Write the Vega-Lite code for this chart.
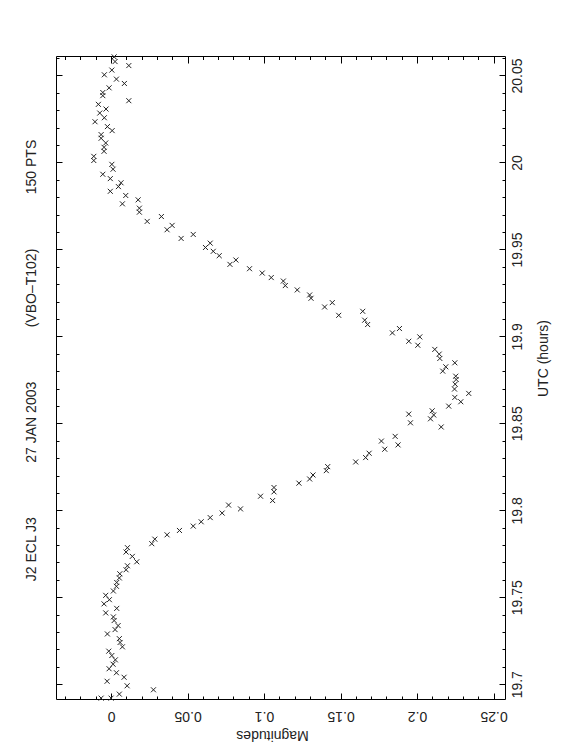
{
  "$schema": "https://vega.github.io/schema/vega-lite/v6.json",
  "width": 449,
  "height": 643,
  "autosize": {"type": "none"},
  "padding": {"left": 56, "top": 56, "right": 57, "bottom": 57},
  "background": "white",
  "config": {
    "view": {"stroke": null},
    "font": "Liberation Sans",
    "axis": {
      "grid": false,
      "domainColor": "#000",
      "domainWidth": 1,
      "tickColor": "#000",
      "tickWidth": 1,
      "labelFont": "Liberation Sans",
      "labelFontSize": 14,
      "labelColor": "#222",
      "labelOverlap": false,
      "labelFlush": false,
      "titleFont": "Liberation Sans",
      "titleFontSize": 14,
      "titleFontWeight": "normal",
      "titleColor": "#222"
    }
  },
  "title": {
    "text": "J2 ECL J3\u00a0\u00a0\u00a0\u00a0\u00a0\u00a0\u00a0\u00a0\u00a0\u00a0\u00a0\u00a0\u00a0\u00a027 JAN 2003\u00a0\u00a0\u00a0\u00a0\u00a0\u00a0\u00a0\u00a0\u00a0\u00a0\u00a0\u00a0\u00a0\u00a0(VBO\u2013T102)\u00a0\u00a0\u00a0\u00a0\u00a0\u00a0\u00a0\u00a0\u00a0\u00a0\u00a0\u00a0\u00a0\u00a0150 PTS",
    "orient": "left",
    "anchor": "middle",
    "angle": -90,
    "baseline": "middle",
    "offset": 10,
    "dx": 17,
    "font": "Liberation Sans",
    "fontSize": 14,
    "fontWeight": "normal",
    "color": "#222",
    "frame": "group"
  },
  "data": {
    "values": [
      {"utc": 20.0607, "mag": 0.0020},
      {"utc": 20.0580, "mag": 0.0026},
      {"utc": 20.0557, "mag": 0.0116},
      {"utc": 20.0531, "mag": 0.0005},
      {"utc": 20.0504, "mag": -0.0044},
      {"utc": 20.0479, "mag": 0.0035},
      {"utc": 20.0454, "mag": 0.0087},
      {"utc": 20.0429, "mag": -0.0013},
      {"utc": 20.0402, "mag": -0.0054},
      {"utc": 20.0384, "mag": -0.0054},
      {"utc": 20.0355, "mag": 0.0116},
      {"utc": 20.0334, "mag": -0.0083},
      {"utc": 20.0307, "mag": -0.0033},
      {"utc": 20.0284, "mag": -0.0074},
      {"utc": 20.0257, "mag": -0.0044},
      {"utc": 20.0234, "mag": -0.0105},
      {"utc": 20.0206, "mag": -0.0024},
      {"utc": 20.0183, "mag": 0.0007},
      {"utc": 20.0160, "mag": -0.0065},
      {"utc": 20.0139, "mag": -0.0065},
      {"utc": 20.0112, "mag": -0.0035},
      {"utc": 20.0087, "mag": -0.0046},
      {"utc": 20.0064, "mag": -0.0046},
      {"utc": 20.0035, "mag": -0.0113},
      {"utc": 20.0011, "mag": -0.0113},
      {"utc": 19.9989, "mag": 0.0005},
      {"utc": 19.9961, "mag": 0.0013},
      {"utc": 19.9932, "mag": -0.0054},
      {"utc": 19.9907, "mag": -0.0005},
      {"utc": 19.9883, "mag": 0.0065},
      {"utc": 19.9861, "mag": 0.0048},
      {"utc": 19.9834, "mag": -0.0005},
      {"utc": 19.9810, "mag": 0.0096},
      {"utc": 19.9785, "mag": 0.0177},
      {"utc": 19.9762, "mag": 0.0074},
      {"utc": 19.9737, "mag": 0.0185},
      {"utc": 19.9714, "mag": 0.0185},
      {"utc": 19.9689, "mag": 0.0329},
      {"utc": 19.9661, "mag": 0.0236},
      {"utc": 19.9638, "mag": 0.0399},
      {"utc": 19.9613, "mag": 0.0366},
      {"utc": 19.9586, "mag": 0.0537},
      {"utc": 19.9563, "mag": 0.0458},
      {"utc": 19.9536, "mag": 0.0648},
      {"utc": 19.9511, "mag": 0.0617},
      {"utc": 19.9489, "mag": 0.0668},
      {"utc": 19.9464, "mag": 0.0707},
      {"utc": 19.9439, "mag": 0.0816},
      {"utc": 19.9414, "mag": 0.0777},
      {"utc": 19.9389, "mag": 0.0905},
      {"utc": 19.9364, "mag": 0.0988},
      {"utc": 19.9338, "mag": 0.1047},
      {"utc": 19.9318, "mag": 0.1126},
      {"utc": 19.9292, "mag": 0.1139},
      {"utc": 19.9267, "mag": 0.1217},
      {"utc": 19.9238, "mag": 0.1298},
      {"utc": 19.9219, "mag": 0.1307},
      {"utc": 19.9194, "mag": 0.1446},
      {"utc": 19.9169, "mag": 0.1396},
      {"utc": 19.9144, "mag": 0.1645},
      {"utc": 19.9121, "mag": 0.1488},
      {"utc": 19.9093, "mag": 0.1658},
      {"utc": 19.9068, "mag": 0.1677},
      {"utc": 19.9045, "mag": 0.1885},
      {"utc": 19.9020, "mag": 0.1839},
      {"utc": 19.8997, "mag": 0.2018},
      {"utc": 19.8972, "mag": 0.1946},
      {"utc": 19.8949, "mag": 0.2005},
      {"utc": 19.8925, "mag": 0.2116},
      {"utc": 19.8898, "mag": 0.2145},
      {"utc": 19.8873, "mag": 0.2149},
      {"utc": 19.8848, "mag": 0.2247},
      {"utc": 19.8825, "mag": 0.2188},
      {"utc": 19.8800, "mag": 0.2168},
      {"utc": 19.8771, "mag": 0.2253},
      {"utc": 19.8752, "mag": 0.2256},
      {"utc": 19.8725, "mag": 0.2249},
      {"utc": 19.8697, "mag": 0.2245},
      {"utc": 19.8672, "mag": 0.2338},
      {"utc": 19.8649, "mag": 0.2247},
      {"utc": 19.8624, "mag": 0.2286},
      {"utc": 19.8599, "mag": 0.2207},
      {"utc": 19.8572, "mag": 0.2099},
      {"utc": 19.8553, "mag": 0.1946},
      {"utc": 19.8548, "mag": 0.2109},
      {"utc": 19.8526, "mag": 0.2088},
      {"utc": 19.8503, "mag": 0.1957},
      {"utc": 19.8479, "mag": 0.2158},
      {"utc": 19.8425, "mag": 0.1857},
      {"utc": 19.8398, "mag": 0.1767},
      {"utc": 19.8376, "mag": 0.1876},
      {"utc": 19.8351, "mag": 0.1789},
      {"utc": 19.8328, "mag": 0.1687},
      {"utc": 19.8303, "mag": 0.1664},
      {"utc": 19.8278, "mag": 0.1599},
      {"utc": 19.8251, "mag": 0.1416},
      {"utc": 19.8228, "mag": 0.1407},
      {"utc": 19.8203, "mag": 0.1320},
      {"utc": 19.8180, "mag": 0.1298},
      {"utc": 19.8156, "mag": 0.1228},
      {"utc": 19.8131, "mag": 0.1065},
      {"utc": 19.8106, "mag": 0.1065},
      {"utc": 19.8081, "mag": 0.0977},
      {"utc": 19.8056, "mag": 0.1056},
      {"utc": 19.8030, "mag": 0.0768},
      {"utc": 19.8008, "mag": 0.0846},
      {"utc": 19.7984, "mag": 0.0726},
      {"utc": 19.7958, "mag": 0.0648},
      {"utc": 19.7934, "mag": 0.0589},
      {"utc": 19.7909, "mag": 0.0537},
      {"utc": 19.7884, "mag": 0.0447},
      {"utc": 19.7859, "mag": 0.0366},
      {"utc": 19.7834, "mag": 0.0286},
      {"utc": 19.7808, "mag": 0.0266},
      {"utc": 19.7785, "mag": 0.0107},
      {"utc": 19.7760, "mag": 0.0098},
      {"utc": 19.7735, "mag": 0.0139},
      {"utc": 19.7704, "mag": 0.0168},
      {"utc": 19.7681, "mag": 0.0107},
      {"utc": 19.7658, "mag": 0.0098},
      {"utc": 19.7635, "mag": 0.0057},
      {"utc": 19.7611, "mag": 0.0054},
      {"utc": 19.7585, "mag": 0.0037},
      {"utc": 19.7563, "mag": 0.0035},
      {"utc": 19.7536, "mag": 0.0015},
      {"utc": 19.7511, "mag": -0.0035},
      {"utc": 19.7486, "mag": -0.0011},
      {"utc": 19.7462, "mag": -0.0046},
      {"utc": 19.7436, "mag": 0.0037},
      {"utc": 19.7410, "mag": -0.0035},
      {"utc": 19.7387, "mag": 0.0015},
      {"utc": 19.7366, "mag": 0.0020},
      {"utc": 19.7337, "mag": 0.0046},
      {"utc": 19.7314, "mag": 0.0026},
      {"utc": 19.7289, "mag": -0.0024},
      {"utc": 19.7262, "mag": 0.0054},
      {"utc": 19.7240, "mag": 0.0059},
      {"utc": 19.7215, "mag": 0.0074},
      {"utc": 19.7190, "mag": -0.0015},
      {"utc": 19.7165, "mag": 0.0005},
      {"utc": 19.7140, "mag": 0.0028},
      {"utc": 19.7115, "mag": 0.0013},
      {"utc": 19.7089, "mag": -0.0013},
      {"utc": 19.7066, "mag": 0.0035},
      {"utc": 19.7040, "mag": 0.0085},
      {"utc": 19.7017, "mag": -0.0026},
      {"utc": 19.6991, "mag": 0.0105},
      {"utc": 19.6968, "mag": 0.0277},
      {"utc": 19.6943, "mag": 0.0054},
      {"utc": 19.6920, "mag": -0.0065},
      {"utc": 19.6920, "mag": 0.0000}
    ]
  },
  "layer": [
    {
      "mark": {"type": "point", "shape": "M-1,-1L1,1M1,-1L-1,1", "filled": false, "size": 25, "stroke": "#222", "strokeWidth": 1, "opacity": 1},
      "encoding": {
        "x": {
          "field": "mag", "type": "quantitative",
          "scale": {"domain": [-0.036, 0.2575], "nice": false, "zero": false},
          "axis": {
            "orient": "bottom",
            "values": [-0.03,-0.02,-0.01,0,0.01,0.02,0.03,0.04,0.05,0.06,0.07,0.08,0.09,0.1,0.11,0.12,0.13,0.14,0.15,0.16,0.17,0.18,0.19,0.2,0.21,0.22,0.23,0.24,0.25],
            "tickSize": {"condition": {"test": "abs(round(datum.value*100)) % 5 == 0", "value": -6}, "value": -3},
            "labelExpr": "abs(round(datum.value*100)) % 5 == 0 ? toString(round(datum.value*100)/100) : ''",
            "labelAngle": 180,
            "labelAlign": "center",
            "labelBaseline": "middle",
            "labelPadding": 22,
            "title": "Magnitudes",
            "titleAngle": 180,
            "titleX": 216,
            "titleY": 35,
            "titleAlign": "center",
            "titleBaseline": "middle"
          }
        },
        "y": {
          "field": "utc", "type": "quantitative",
          "scale": {"domain": [19.6915, 20.0612], "nice": false, "zero": false},
          "axis": {
            "orient": "right",
            "values": [19.7,19.71,19.72,19.73,19.74,19.75,19.76,19.77,19.78,19.79,19.8,19.81,19.82,19.83,19.84,19.85,19.86,19.87,19.88,19.89,19.9,19.91,19.92,19.93,19.94,19.95,19.96,19.97,19.98,19.99,20,20.01,20.02,20.03,20.04,20.05,20.06],
            "tickSize": {"condition": {"test": "round(datum.value*100) % 5 == 0", "value": -6}, "value": -3},
            "labelExpr": "round(datum.value*100) % 5 == 0 ? toString(round(datum.value*100)/100) : ''",
            "labelAngle": -90,
            "labelAlign": "center",
            "labelBaseline": "middle",
            "labelPadding": 18,
            "title": "UTC (hours)",
            "titleAngle": -90,
            "titleX": 38,
            "titleY": 302,
            "titleAlign": "center",
            "titleBaseline": "middle"
          }
        }
      }
    },
    {
      "mark": {"type": "point", "opacity": 0},
      "encoding": {
        "x": {
          "field": "mag", "type": "quantitative",
          "axis": {
            "orient": "top",
            "values": [-0.03,-0.02,-0.01,0,0.01,0.02,0.03,0.04,0.05,0.06,0.07,0.08,0.09,0.1,0.11,0.12,0.13,0.14,0.15,0.16,0.17,0.18,0.19,0.2,0.21,0.22,0.23,0.24,0.25],
            "tickSize": {"condition": {"test": "abs(round(datum.value*100)) % 5 == 0", "value": -7}, "value": -3.5},
            "labels": false,
            "title": null
          }
        },
        "y": {
          "field": "utc", "type": "quantitative",
          "axis": {
            "orient": "left",
            "values": [19.7,19.71,19.72,19.73,19.74,19.75,19.76,19.77,19.78,19.79,19.8,19.81,19.82,19.83,19.84,19.85,19.86,19.87,19.88,19.89,19.9,19.91,19.92,19.93,19.94,19.95,19.96,19.97,19.98,19.99,20,20.01,20.02,20.03,20.04,20.05,20.06],
            "tickSize": {"condition": {"test": "round(datum.value*100) % 5 == 0", "value": -6}, "value": -3},
            "labels": false,
            "title": null
          }
        }
      }
    }
  ],
  "resolve": {"axis": {"x": "independent", "y": "independent"}}
}
